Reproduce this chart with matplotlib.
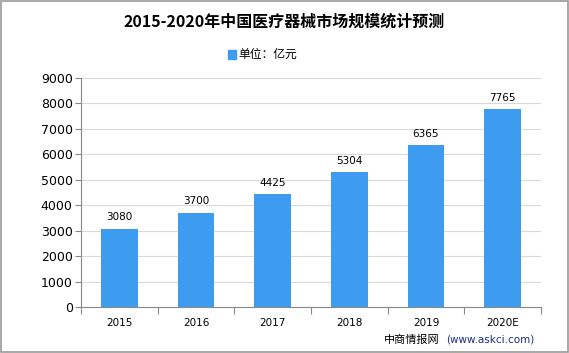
import numpy as np
import matplotlib
matplotlib.use("Agg")
from matplotlib import pyplot as plt
from matplotlib.patches import Rectangle

plt.rcParams['font.family'] = ['Noto Sans CJK SC', 'DejaVu Sans']

years = ["2015", "2016", "2017", "2018", "2019", "2020E"]
values = [3080, 3700, 4425, 5304, 6365, 7765]
yticks = [0, 1000, 2000, 3000, 4000, 5000, 6000, 7000, 8000, 9000]

bar_color = "#3d9cf0"

fig = plt.figure(figsize=(5.69, 3.53), dpi=100)
ax = fig.add_axes([81/569, 1-307/353, 460/569, 229/353])

x = np.arange(len(years))
ax.bar(x, values, width=0.48, color=bar_color, zorder=3)
for xi, v in zip(x, values):
    ax.text(xi, v + 250, str(v), ha="center", va="bottom", fontsize=7.5,
            family="DejaVu Sans")

ax.set_xlim(-0.5, len(years) - 0.5)
ax.set_ylim(0, 9000)
ax.set_yticks(yticks)
ax.set_yticklabels([str(t) for t in yticks], fontsize=9, family="DejaVu Sans")
ax.yaxis.grid(True, color="#d9d9d9", linewidth=0.8, zorder=0)

# category boundary ticks, labels at centers
ax.set_xticks(np.arange(-0.5, len(years), 1.0))
ax.set_xticklabels([])
ax.set_xticks(x, minor=True)
ax.set_xticklabels(years, minor=True, fontsize=7.5, family="DejaVu Sans")
ax.tick_params(axis="x", which="major", length=5, color="#888888")
ax.tick_params(axis="x", which="minor", length=0, pad=8)
ax.tick_params(axis="y", length=4, color="#888888", pad=2)

for s in ["top", "right"]:
    ax.spines[s].set_visible(False)
for s in ["left", "bottom"]:
    ax.spines[s].set_color("#888888")

fig.text(0.5, 1 - 22/353, "2015-2020年中国医疗器械市场规模统计预测",
         ha="center", va="center", fontsize=11.5, fontweight="bold")

# legend
fig.patches.append(Rectangle((228/569, 1-59/353), 8/569, 9/353,
                             transform=fig.transFigure, color=bar_color))
fig.text(238/569, 1 - 54/353, "单位：亿元", ha="left", va="center", fontsize=8.5)

# source
fig.text(384/569, 1 - 340/353, "中商情报网", ha="left", va="center", fontsize=8)
fig.text(446/569, 1 - 340/353, "(www.askci.com)", ha="left", va="center",
         fontsize=7.5, color="#1f2a8a", family="DejaVu Sans")

# outer border
fig.patches.append(Rectangle((0.002, 0.003), 0.996, 0.994, transform=fig.transFigure,
                             fill=False, edgecolor="#999999", linewidth=1.2))

fig.savefig("out.png", dpi=100)
